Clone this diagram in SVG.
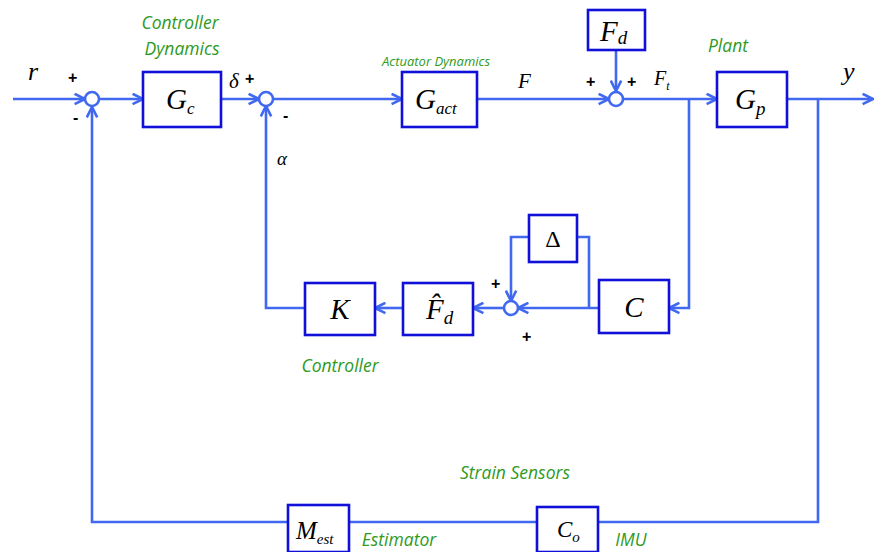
<svg xmlns="http://www.w3.org/2000/svg" width="874" height="552" viewBox="0 0 874 552">
<style>
.ln{fill:none;stroke:#4169f0;stroke-width:2.6;}
.sum{fill:#fff;stroke:#4169f0;stroke-width:2.6;}
.box{fill:#fff;stroke:#1010d8;stroke-width:2.6;}
.m{font-family:"Liberation Serif",serif;font-style:italic;fill:#000;}
.g{font-family:"Open Sans","Liberation Sans",sans-serif;font-style:italic;fill:#2e9a1e;}
.s{font-family:"Liberation Sans",sans-serif;font-weight:bold;fill:#000;font-size:16px;}
</style>
<defs>
<marker id="a" viewBox="0 0 10 10" refX="9" refY="5" markerWidth="5" markerHeight="5" orient="auto" markerUnits="strokeWidth">
<path d="M1,1 L9,5 L1,9" fill="none" stroke="#4169f0" stroke-width="2"/>
</marker>
</defs>
<g id="connectors">
<path class="ln" d="M13,99 H85" marker-end="url(#a)"/>
<path class="ln" d="M99,99 H143" marker-end="url(#a)"/>
<path class="ln" d="M221,99 H259" marker-end="url(#a)"/>
<path class="ln" d="M273,99 H402" marker-end="url(#a)"/>
<path class="ln" d="M477,99 H609" marker-end="url(#a)"/>
<path class="ln" d="M616,50 V91" marker-end="url(#a)"/>
<path class="ln" d="M623,99 H717" marker-end="url(#a)"/>
<path class="ln" d="M787,99 H873" marker-end="url(#a)"/>
<path class="ln" d="M689,99 V308 H669" marker-end="url(#a)"/>
<path class="ln" d="M599,308 H518" marker-end="url(#a)"/>
<path class="ln" d="M529,237 H511 V301" marker-end="url(#a)"/>
<path class="ln" d="M577,237 H589 V308"/>
<path class="ln" d="M504,308 H473" marker-end="url(#a)"/>
<path class="ln" d="M403,308 H375" marker-end="url(#a)"/>
<path class="ln" d="M305,308 H266 V106" marker-end="url(#a)"/>
<path class="ln" d="M818,99 V522 H598"/>
<path class="ln" d="M537,522 H349"/>
<path class="ln" d="M288,522 H92 V107" marker-end="url(#a)"/>
</g>
<g id="sum1"><circle class="sum" cx="92" cy="99" r="7"/></g>
<g id="sum2"><circle class="sum" cx="266" cy="99" r="7"/></g>
<g id="sum3"><circle class="sum" cx="616" cy="99" r="7"/></g>
<g id="sum4"><circle class="sum" cx="511" cy="308" r="7"/></g>
<g id="Gc"><rect class="box" x="143" y="72" width="78" height="55"/><text class="m" x="166" y="109" font-size="29">G<tspan font-size="17" dy="5">c</tspan></text></g>
<g id="Gact"><rect class="box" x="402" y="72" width="75" height="55"/><text class="m" x="415" y="109" font-size="29">G<tspan font-size="17" dy="5">act</tspan></text></g>
<g id="Fd"><rect class="box" x="588" y="10" width="57" height="40"/><text class="m" x="600" y="41" font-size="29">F<tspan font-size="19" dy="3">d</tspan></text></g>
<g id="Gp"><rect class="box" x="717" y="72" width="70" height="55"/><text class="m" x="735" y="109" font-size="29">G<tspan font-size="19" dy="6">p</tspan></text></g>
<g id="K"><rect class="box" x="305" y="283" width="70" height="52"/><text class="m" x="340" y="319" font-size="29" text-anchor="middle">K</text></g>
<g id="Fhat"><rect class="box" x="403" y="283" width="70" height="52"/><text class="m" x="426" y="319" font-size="29">F&#x302;<tspan font-size="19" dy="5">d</tspan></text></g>
<g id="Delta"><rect class="box" x="529" y="215" width="48" height="47"/><text x="553" y="247" font-family="Liberation Serif,serif" font-size="24" text-anchor="middle">Δ</text></g>
<g id="C"><rect class="box" x="599" y="280" width="70" height="53"/><text class="m" x="634" y="317" font-size="29" text-anchor="middle">C</text></g>
<g id="Mest"><rect class="box" x="288" y="505" width="61" height="47"/><text class="m" x="296" y="539" font-size="25">M<tspan font-size="15" dy="5">est</tspan></text></g>
<g id="Co"><rect class="box" x="537" y="507" width="61" height="45"/><text class="m" x="557" y="537" font-size="23">C<tspan font-size="15" dy="5">o</tspan></text></g>
<g id="labels">
<text class="g" x="180" y="29" font-size="17.5" text-anchor="middle">Controller</text>
<text class="g" x="182" y="55" font-size="17.5" text-anchor="middle">Dynamics</text>
<text class="g" x="436" y="66" font-size="13" text-anchor="middle">Actuator Dynamics</text>
<text class="g" x="728" y="52" font-size="17.5" text-anchor="middle">Plant</text>
<text class="g" x="340" y="372" font-size="17.5" text-anchor="middle">Controller</text>
<text class="g" x="515" y="479" font-size="17.5" text-anchor="middle">Strain Sensors</text>
<text class="g" x="399" y="546" font-size="17.5" text-anchor="middle">Estimator</text>
<text class="g" x="631" y="546" font-size="17.5" text-anchor="middle">IMU</text>
<text class="m" x="28" y="80" font-size="26">r</text>
<text class="m" x="229" y="88" font-size="21">δ</text>
<text class="m" x="518" y="88" font-size="21">F</text>
<text class="m" x="654" y="85" font-size="20">F<tspan font-size="12" dy="5">t</tspan></text>
<text class="m" x="843" y="80" font-size="26">y</text>
<text class="m" x="277" y="165" font-size="19">α</text>
<text class="s" x="68" y="83">+</text>
<text class="s" x="73" y="123">-</text>
<text class="s" x="245" y="84">+</text>
<text class="s" x="283" y="121">-</text>
<text class="s" x="586" y="87">+</text>
<text class="s" x="627" y="87">+</text>
<text class="s" x="491" y="289">+</text>
<text class="s" x="522" y="342">+</text>
</g>
</svg>
